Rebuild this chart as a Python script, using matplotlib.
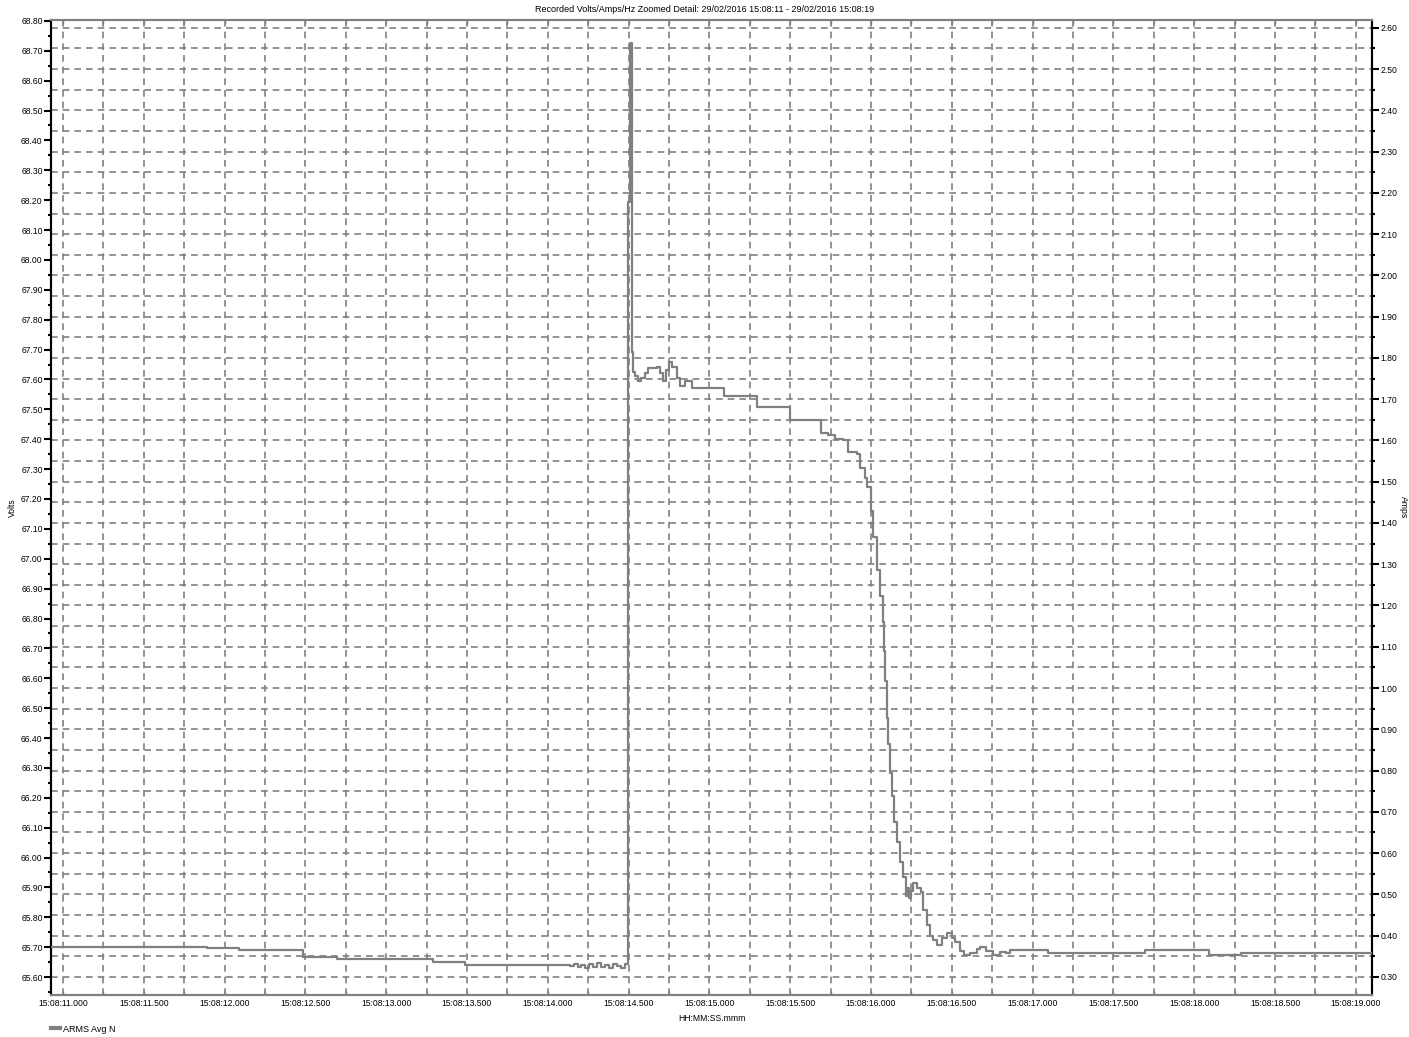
import matplotlib
matplotlib.use("Agg")
import matplotlib.pyplot as plt
from matplotlib.ticker import MultipleLocator, FuncFormatter
from matplotlib.lines import Line2D

plt.rcParams['font.family'] = ['Liberation Sans', 'DejaVu Sans']

# ---- data: seconds after 15:08:00 and ARMS Avg N (amps), step values ----
t_sec = [10.926, 11.891, 12.089, 12.485, 12.696, 13.290, 13.488,
         14.137, 14.162, 14.186, 14.205, 14.230, 14.255, 14.280, 14.305,
         14.330, 14.355, 14.380, 14.405, 14.430, 14.455, 14.475,
         14.496, 14.508, 14.518, 14.525, 14.540, 14.560, 14.575, 14.601,
         14.622, 14.674, 14.694, 14.715, 14.731, 14.752, 14.767, 14.798,
         14.818, 14.849, 14.890, 15.090, 15.295, 15.499, 15.691, 15.736,
         15.777, 15.829, 15.860, 15.912, 15.932, 15.963, 15.977, 15.998,
         16.014, 16.039, 16.056, 16.072, 16.080, 16.088, 16.097, 16.107,
         16.118, 16.130, 16.142, 16.159, 16.179, 16.196, 16.216, 16.225,
         16.235, 16.245, 16.258, 16.283, 16.307, 16.324, 16.345, 16.365,
         16.386, 16.410, 16.437, 16.468, 16.499, 16.521, 16.551, 16.575,
         16.613, 16.654, 16.674, 16.712, 16.755, 16.798, 16.835, 16.860,
         17.095, 17.696, 18.092, 18.290, 18.896, 19.100]
arms_n = [0.372, 0.369, 0.364, 0.349, 0.344, 0.335, 0.329,
          0.326, 0.331, 0.324, 0.329, 0.322, 0.330, 0.325, 0.333,
          0.323, 0.328, 0.322, 0.331, 0.326, 0.321, 0.330,
          2.179, 2.563, 1.815, 1.767, 1.755, 1.743, 1.751, 1.763,
          1.775, 1.779, 1.763, 1.743, 1.771, 1.791, 1.779, 1.751,
          1.731, 1.743, 1.727, 1.708, 1.681, 1.649, 1.618, 1.613,
          1.604, 1.600, 1.573, 1.566, 1.533, 1.510, 1.488, 1.429,
          1.367, 1.286, 1.223, 1.160, 1.089, 1.017, 0.928, 0.865,
          0.793, 0.739, 0.676, 0.627, 0.578, 0.542, 0.497, 0.515,
          0.490, 0.508, 0.528, 0.516, 0.506, 0.461, 0.425, 0.398,
          0.390, 0.376, 0.394, 0.407, 0.394, 0.385, 0.363, 0.353,
          0.358, 0.367, 0.373, 0.362, 0.353, 0.360, 0.357, 0.364,
          0.359, 0.364, 0.353, 0.359, 0.357, 0.357]

title = "Recorded Volts/Amps/Hz Zoomed Detail: 29/02/2016 15:08:11 - 29/02/2016 15:08:19"
series_name = "ARMS Avg N"
t_range = (10.926, 19.100)
amps_range = (0.256, 2.619)
volts_range = (65.54, 68.803)

grey = "#808080"
fs = 6.2

fig = plt.figure(figsize=(14.09, 10.37), dpi=100, facecolor='w')
# volts axis (left), amps axis is its twin on the right
axv = fig.add_axes([51/1409, 1 - 995/1037, (1372 - 51)/1409, (995 - 20)/1037])
ax = axv.twinx()

axv.set_xlim(*t_range)
axv.set_ylim(*volts_range)
axv.yaxis.set_major_locator(MultipleLocator(0.1))
axv.yaxis.set_minor_locator(MultipleLocator(0.05))
axv.yaxis.set_major_formatter(FuncFormatter(lambda v, p: "%.2f" % v))
axv.set_ylabel("Volts", fontsize=fs, labelpad=3)

axv.xaxis.set_major_locator(MultipleLocator(0.5))
axv.xaxis.set_minor_locator(MultipleLocator(0.25))
axv.xaxis.set_major_formatter(FuncFormatter(lambda v, p: "15:08:%06.3f" % v))
axv.set_xlabel("HH:MM:SS.mmm", fontsize=fs, labelpad=4)
axv.tick_params(axis='x', which='both', direction='in', top=True, bottom=True,
                length=3, width=1, color=grey, labelsize=fs, pad=3)

# amps axis
ax.plot(t_sec, arms_n, drawstyle='steps-post', color=grey, lw=1.6, zorder=3)
ax.set_xlim(*t_range)
ax.set_ylim(*amps_range)
ax.yaxis.set_major_locator(MultipleLocator(0.1))
ax.yaxis.set_minor_locator(MultipleLocator(0.05))
ax.yaxis.set_major_formatter(FuncFormatter(lambda v, p: "%.2f" % v))
ax.set_ylabel("Amps", rotation=270, fontsize=fs, labelpad=8)

for a in (ax, axv):
    a.tick_params(axis='y', which='major', direction='out', length=5, width=1.5,
                  color='black', labelsize=fs, pad=1)
    a.tick_params(axis='y', which='minor', direction='out', length=2.5, width=1.5,
                  color='black')

axv.grid(True, which='both', axis='x', color=grey, linestyle=(0, (4, 3)), lw=1.2)
ax.grid(True, which='both', axis='y', color=grey, linestyle=(0, (4, 3)), lw=1.2)
ax.set_axisbelow(True)

for a in (ax, axv):
    for side in ['top', 'bottom']:
        a.spines[side].set_color(grey)
        a.spines[side].set_linewidth(1.5)
    for side in ['left', 'right']:
        a.spines[side].set_color('black')
        a.spines[side].set_linewidth(1.5)

fig.text(0.5, 1 - 10/1037, title, ha='center', va='center', fontsize=fs + 0.3)

handle = Line2D([], [], color=grey, lw=3)
fig.legend([handle], [series_name], loc='center left', bbox_to_anchor=(0.036, 1 - 1029/1037),
           frameon=False, fontsize=fs + 0.3, handlelength=1.0, handletextpad=0.4,
           borderpad=0, borderaxespad=0)

fig.savefig("out.png", dpi=100)
